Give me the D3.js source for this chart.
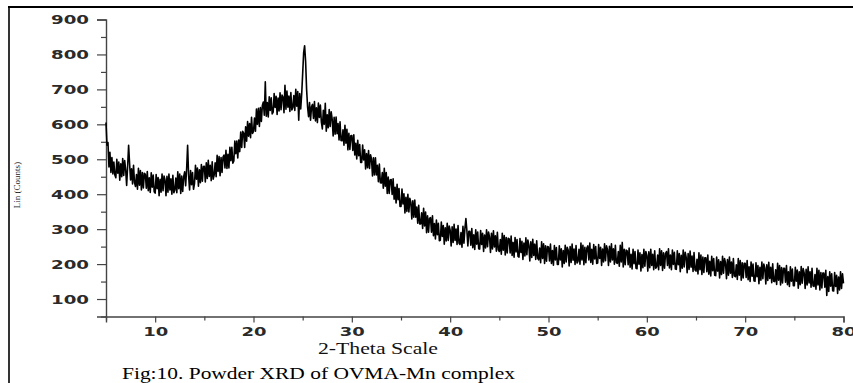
<!DOCTYPE html>
<html>
<head>
<meta charset="utf-8">
<script src="https://cdn.jsdelivr.net/npm/d3@7/dist/d3.min.js"></script>
<style>
  body { margin: 0; background: #fff; }
  svg { display: block; }
</style>
</head>
<body>
<svg id="chart" width="853" height="383"></svg>
<script>
// Powder XRD scan, 2-theta from 5 to 80 degrees in 0.1 degree steps
const angleStart = 5;
const angleStep = 0.1;

// Intensity (counts), 5.0 - 19.9 deg
const counts5to20 = [
  605, 540, 548, 478, 520, 462, 505, 458, 492, 455,
  447, 500, 460, 492, 440, 487, 450, 502, 454, 496,
  470, 425, 480, 540, 487, 441, 473, 429, 483, 433,
  422, 456, 414, 474, 426, 468, 412, 462, 418, 460,
  457, 417, 465, 410, 447, 405, 461, 420, 455, 407,
  403, 456, 416, 448, 396, 443, 406, 458, 410, 452,
  441, 396, 451, 406, 458, 412, 444, 400, 454, 404,
  412, 446, 404, 464, 416, 458, 402, 452, 408, 450,
  464, 424, 472, 540, 454, 412, 468, 427, 462, 414,
  430, 483, 443, 475, 423, 470, 433, 485, 437, 479,
  480, 435, 490, 445, 497, 451, 483, 439, 493, 443,
  455, 490, 450, 511, 465, 508, 453, 505, 462, 506,
  512, 475, 526, 474, 514, 475, 534, 496, 534, 489,
  495, 552, 516, 552, 504, 555, 522, 578, 534, 580,
  575, 534, 593, 552, 608, 566, 602, 562, 620, 574
];

// Intensity (counts), 20.0 - 34.9 deg (amorphous halo and sharp reflection)
const counts20to35 = [
  580, 618, 580, 644, 600, 646, 594, 648, 608, 654,
  664, 626, 722, 623, 662, 621, 679, 640, 676, 630,
  635, 688, 648, 680, 628, 675, 638, 690, 642, 684,
  678, 633, 712, 643, 695, 649, 681, 637, 691, 641,
  648, 682, 640, 700, 652, 694, 612, 688, 644, 686,
  745, 805, 825, 780, 700, 650, 622, 662, 612, 650,
  657, 617, 665, 610, 647, 605, 661, 620, 655, 607,
  587, 640, 600, 660, 580, 627, 590, 642, 594, 636,
  615, 567, 620, 572, 621, 573, 602, 555, 607, 554,
  553, 584, 540, 597, 546, 586, 527, 574, 528, 567,
  568, 525, 570, 512, 546, 501, 554, 510, 542, 491,
  491, 541, 498, 527, 472, 516, 476, 525, 474, 513,
  501, 452, 504, 455, 504, 455, 483, 436, 486, 433,
  432, 462, 417, 474, 423, 462, 402, 449, 402, 441,
  442, 399, 444, 386, 420, 375, 428, 384, 416, 365
];

// Intensity (counts), 35.0 - 49.9 deg
const counts35to50 = [
  365, 415, 372, 401, 346, 391, 351, 400, 349, 388,
  377, 329, 381, 334, 383, 334, 363, 317, 368, 315,
  315, 347, 302, 360, 309, 349, 290, 338, 291, 331,
  333, 291, 338, 281, 316, 272, 326, 284, 317, 267,
  268, 320, 279, 310, 257, 304, 266, 317, 268, 309,
  297, 252, 307, 262, 314, 268, 300, 256, 310, 260,
  256, 290, 248, 308, 260, 302, 330, 296, 252, 294,
  294, 254, 302, 247, 284, 242, 298, 257, 292, 244,
  243, 296, 256, 288, 236, 283, 246, 298, 250, 292,
  278, 233, 288, 243, 295, 249, 281, 237, 291, 241,
  236, 270, 228, 288, 240, 282, 226, 276, 232, 274,
  272, 232, 280, 225, 262, 220, 276, 235, 270, 222,
  220, 273, 233, 265, 213, 260, 223, 275, 227, 269,
  254, 209, 264, 219, 271, 225, 257, 213, 267, 217,
  212, 246, 204, 264, 216, 258, 202, 252, 208, 250
];

// Intensity (counts), 50.0 - 80.0 deg
const counts50to80 = [
  249, 209, 257, 202, 239, 197, 253, 212, 247, 199,
  199, 252, 212, 244, 192, 239, 202, 254, 206, 248,
  240, 195, 250, 205, 257, 211, 243, 199, 253, 203,
  208, 242, 200, 260, 212, 254, 198, 248, 204, 246,
  252, 212, 260, 205, 242, 200, 256, 215, 250, 202,
  203, 256, 216, 248, 196, 243, 206, 258, 210, 252,
  241, 196, 251, 206, 258, 212, 244, 200, 254, 204,
  202, 236, 194, 254, 206, 262, 192, 242, 198, 240,
  238, 198, 246, 191, 228, 186, 242, 201, 236, 188,
  187, 240, 200, 232, 180, 227, 190, 242, 194, 236,
  225, 180, 235, 190, 242, 196, 228, 184, 238, 188,
  192, 226, 184, 244, 196, 238, 182, 232, 188, 230,
  236, 196, 244, 189, 226, 184, 240, 199, 234, 186,
  185, 238, 198, 230, 178, 225, 188, 240, 192, 234,
  220, 175, 230, 185, 237, 191, 223, 179, 233, 183,
  180, 214, 172, 232, 184, 226, 170, 220, 176, 218,
  218, 178, 226, 171, 208, 166, 222, 181, 216, 168,
  167, 220, 180, 212, 160, 207, 170, 222, 174, 216,
  203, 158, 213, 168, 220, 174, 206, 162, 216, 166,
  164, 198, 156, 216, 168, 210, 154, 204, 160, 202,
  202, 162, 210, 155, 192, 150, 206, 165, 200, 152,
  151, 204, 164, 196, 144, 191, 154, 206, 158, 200,
  188, 143, 198, 153, 205, 159, 191, 147, 201, 151,
  150, 184, 142, 202, 154, 196, 140, 190, 146, 188,
  188, 148, 196, 141, 178, 136, 192, 151, 186, 138,
  138, 191, 151, 183, 131, 178, 141, 193, 145, 187,
  175, 130, 185, 140, 192, 146, 178, 134, 188, 138,
  136, 170, 128, 188, 140, 182, 126, 176, 132, 174,
  174, 134, 182, 110, 164, 122, 178, 137, 172, 124,
  123, 176, 136, 168, 116, 163, 126, 178, 130, 172,
  145
];

// Axis ticks
const yTickValues = [100, 200, 300, 400, 500, 600, 700, 800, 900];
const yMinorTicks = [50, 150, 250, 350, 450, 550, 650, 750, 850];
const xTickValues = [10, 20, 30, 40, 50, 60, 70, 80];
const xMinorTicks = [5, 15, 25, 35, 45, 55, 65, 75];

const xTitle = "2-Theta Scale";
const yTitle = "Lin (Counts)";
const caption = "Fig:10. Powder XRD of OVMA-Mn complex";

const counts = counts5to20.concat(counts20to35, counts35to50, counts50to80);
const scan = counts.map((c, i) => ({
  angle: +(angleStart + i * angleStep).toFixed(2),
  count: c
}));

const svg = d3.select("#chart");

const x = d3.scaleLinear().domain([5, 80]).range([106, 843.5]);
const y = d3.scaleLinear().domain([50, 900]).range([316.5, 19.5]);

// Page frame (top and left rules)
svg.append("line")
  .attr("x1", 8).attr("x2", 853).attr("y1", 7).attr("y2", 7)
  .attr("stroke", "#000").attr("stroke-width", 2);
svg.append("line")
  .attr("x1", 9).attr("x2", 9).attr("y1", 7).attr("y2", 383)
  .attr("stroke", "#000").attr("stroke-width", 1.6);

const tickFont = "'DejaVu Sans', Verdana, sans-serif";
const axisColor = "#444";

function styleLabels(sel) {
  sel.selectAll("text")
    .attr("fill", "#2a2a2a")
    .attr("font-family", tickFont)
    .attr("font-weight", "bold")
    .attr("font-size", 13)
    .attr("textLength", function () { return this.textContent.length * 13 - 1; })
    .attr("lengthAdjust", "spacingAndGlyphs");
}

// Y axis
const yAxisG = svg.append("g")
  .attr("transform", `translate(${x(5)},0)`)
  .call(d3.axisLeft(y).tickValues(yTickValues).tickSize(9).tickPadding(8));
yAxisG.select(".domain").attr("stroke", axisColor).attr("stroke-width", 1.4);
yAxisG.selectAll(".tick line").attr("stroke", axisColor).attr("stroke-width", 1.2);
styleLabels(yAxisG);

const yMinorG = svg.append("g")
  .attr("transform", `translate(${x(5)},0)`)
  .call(d3.axisLeft(y).tickValues(yMinorTicks).tickSize(5).tickFormat(""));
yMinorG.select(".domain").remove();
yMinorG.selectAll(".tick line").attr("stroke", axisColor).attr("stroke-width", 1.2);

// X axis
const xAxisG = svg.append("g")
  .attr("transform", `translate(0,${y(50)})`)
  .call(d3.axisBottom(x).tickValues(xTickValues).tickSize(6).tickPadding(4.5));
xAxisG.select(".domain").attr("stroke", axisColor).attr("stroke-width", 1.4);
xAxisG.selectAll(".tick line").attr("stroke", axisColor).attr("stroke-width", 1.2);
styleLabels(xAxisG);

const xMinorG = svg.append("g")
  .attr("transform", `translate(0,${y(50)})`)
  .call(d3.axisBottom(x).tickValues(xMinorTicks).tickSize(4).tickFormat(""));
xMinorG.select(".domain").remove();
xMinorG.selectAll(".tick line").attr("stroke", axisColor).attr("stroke-width", 1.2);

// Diffraction trace
const line = d3.line()
  .x(d => x(d.angle))
  .y(d => y(d.count));

svg.append("path")
  .datum(scan)
  .attr("d", line)
  .attr("fill", "none")
  .attr("stroke", "#000")
  .attr("stroke-width", 1.6)
  .attr("stroke-linejoin", "round");

// Titles
const serif = "'Liberation Serif', 'Times New Roman', serif";

svg.append("text")
  .attr("x", 318).attr("y", 354)
  .attr("font-family", serif).attr("font-size", 16)
  .attr("fill", "#111")
  .attr("textLength", 120).attr("lengthAdjust", "spacingAndGlyphs")
  .text(xTitle);

svg.append("text")
  .attr("transform", "translate(20,185) rotate(-90)")
  .attr("text-anchor", "middle")
  .attr("font-family", serif).attr("font-size", 9)
  .attr("fill", "#222")
  .text(yTitle);

svg.append("text")
  .attr("x", 122).attr("y", 379)
  .attr("font-family", serif).attr("font-size", 16)
  .attr("fill", "#000")
  .attr("textLength", 393).attr("lengthAdjust", "spacingAndGlyphs")
  .text(caption);
</script>
</body>
</html>
